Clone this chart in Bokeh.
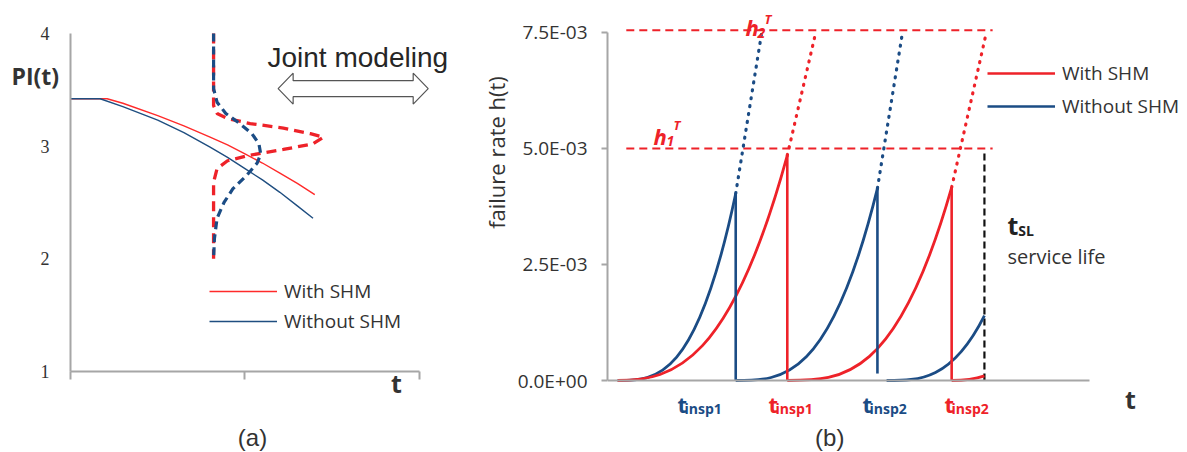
import math
from bokeh.plotting import figure
from bokeh.models import Range1d, FixedTicker, Label, Legend, LegendItem
from bokeh.layouts import row
from bokeh.embed import file_html
from bokeh.resources import INLINE

# ---------------- panel (a) data ----------------
a_t_with = [0, 0.21, 0.3, 0.5, 0.65, 0.8, 0.9, 1.0, 1.1, 1.2, 1.3, 1.4]
a_pi_with = [3.42, 3.42, 3.38, 3.27, 3.18, 3.08, 3.01, 2.93, 2.85, 2.76, 2.67, 2.57]
a_t_without = [0, 0.17, 0.3, 0.5, 0.65, 0.8, 0.9, 1.0, 1.1, 1.2, 1.3, 1.39]
a_pi_without = [3.42, 3.42, 3.35, 3.23, 3.12, 2.99, 2.90, 2.80, 2.70, 2.59, 2.47, 2.36]

a_pdf_with_t = [0.82, 0.82, 0.84, 0.90, 1.03, 1.22, 1.375, 1.45, 1.39, 1.22, 1.03, 0.90, 0.84, 0.82, 0.82]
a_pdf_with_pi = [4.0, 3.36, 3.29, 3.245, 3.20, 3.16, 3.11, 3.08, 3.02, 2.97, 2.92, 2.87, 2.80, 2.68, 2.0]
a_pdf_without_t = [0.82, 0.82, 0.84, 0.89, 0.97, 1.04, 1.08, 1.09, 1.07, 1.01, 0.93, 0.88, 0.84, 0.825, 0.82]
a_pdf_without_pi = [4.0, 3.51, 3.39, 3.29, 3.20, 3.11, 3.02, 2.93, 2.85, 2.74, 2.62, 2.50, 2.36, 2.18, 2.0]

a_xticks = [0, 1, 2]
a_yticks = [1, 2, 3, 4]
a_ytick_labels = ["1", "2", "3", "4"]

# double arrow ("Joint modeling"), data units of panel (a)
ARR_X0, ARR_X1, ARR_Y = 1.19, 2.05, 3.51
ARR_HEAD_LEN, ARR_HEAD_HALF, ARR_BODY_HALF = 0.086, 0.1375, 0.071

# ---------------- panel (b) data ----------------
# each degradation cycle: start time, end (inspection) time, failure rate at end, curvature factor
b_blue_start = [0.21, 2.66, 5.79]
b_blue_end = [2.66, 5.60, 7.82]
b_blue_peak = [0.00403, 0.00414, 0.0014]
b_blue_shape = [0.0, 0.0, 0.0]
b_red_start = [0.21, 3.73, 7.14]
b_red_end = [3.73, 7.14, 7.82]
b_red_peak = [0.00485, 0.00416, 0.0001]
b_red_shape = [0.08, 0.0, 0.2]
# inspections (repair drops)
b_blue_insp_t = [2.66, 5.60]
b_blue_insp_top = [0.00403, 0.00414]
b_blue_insp_bottom = [0, 0.00015]
b_red_insp_t = [3.73, 7.14]
b_red_insp_top = [0.00485, 0.00416]
b_red_insp_bottom = [0, 0]
# dotted extrapolations up to h2^T
b_blue_extra_t1 = [3.20, 6.12]
b_red_extra_t1 = [4.32, 7.86]
b_extra_h1 = 0.0075
# thresholds
b_thresholds = [0.005, 0.00755]
b_threshold_t0, b_threshold_t1 = 0.39, 7.99
b_service_life = 7.82
b_service_life_top = 0.0049

b_yticks = [0, 0.0025, 0.005, 0.0075]
b_ytick_labels = ["0.0E+00", "2.5E-03", "5.0E-03", "7.5E-03"]

b_insp_label_t = [1.452, 3.340, 5.290, 6.992]
b_insp_label_sub = ["insp1", "insp1", "insp2", "insp2"]
b_insp_label_series = ["without", "with", "without", "with"]

# ---------------- styles ----------------
RED = "#ee2229"
BLUE = "#1b4c85"
RED_THIN = "#ff2a2a"
BLUE_THIN = "#1f4e80"
AXIS_GRAY = "#a6a6a6"
TXT = "#333333"
FONT = "Open Sans"
H = 451
TOP = 8


def bare(p):
    p.outline_line_color = None
    p.xgrid.grid_line_color = None
    p.ygrid.grid_line_color = None


# ================= panel (a) =================
p1 = figure(width=453, height=H, x_range=Range1d(-0.4011, 2.195), y_range=Range1d(0.2901, 4.221),
            x_axis_location="above", output_backend="svg", toolbar_location=None,
            min_border_left=0, min_border_right=0, min_border_top=TOP, min_border_bottom=0)
bare(p1)

xa = p1.xaxis[0]
xa.fixed_location = 1
xa.bounds = (0, 2)
xa.ticker = FixedTicker(ticks=a_xticks)
xa.major_label_overrides = {0: "", 1: "", 2: ""}
xa.major_label_text_font_size = "1px"
xa.major_label_standoff = 0
xa.major_tick_out = 0
xa.major_tick_in = 8
xa.major_tick_line_color = AXIS_GRAY
xa.major_tick_line_width = 2
xa.minor_tick_line_color = None
xa.axis_line_color = AXIS_GRAY
xa.axis_line_width = 2

ya = p1.yaxis[0]
ya.fixed_location = 0
ya.bounds = (1, 4)
ya.ticker = FixedTicker(ticks=[])
ya.major_label_standoff = 0
ya.major_tick_out = 0
ya.major_tick_in = 0
ya.major_tick_line_color = None
ya.minor_tick_line_color = None
ya.axis_line_color = AXIS_GRAY
ya.axis_line_width = 2

# y tick labels of panel (a), placed through the y scale
p1.text(x=[0] * len(a_yticks), y=a_yticks, text=a_ytick_labels, x_offset=-21,
        text_align="right", text_baseline="middle", text_font="Open Sans",
        text_font_size="18px", text_color=TXT)

r_with = p1.multi_line([a_t_with], [a_pi_with], line_color=RED_THIN, line_width=1.4)
r_without = p1.multi_line([a_t_without], [a_pi_without], line_color=BLUE_THIN, line_width=1.4)
p1.line(a_pdf_with_t, a_pdf_with_pi, line_color=RED, line_width=3.3, line_dash="10 6")
p1.line(a_pdf_without_t, a_pdf_without_pi, line_color=BLUE, line_width=3.2, line_dash="8 5")

ax = [ARR_X0, ARR_X0 + ARR_HEAD_LEN, ARR_X0 + ARR_HEAD_LEN, ARR_X1 - ARR_HEAD_LEN, ARR_X1 - ARR_HEAD_LEN,
      ARR_X1, ARR_X1 - ARR_HEAD_LEN, ARR_X1 - ARR_HEAD_LEN, ARR_X0 + ARR_HEAD_LEN, ARR_X0 + ARR_HEAD_LEN]
ay = [ARR_Y, ARR_Y + ARR_HEAD_HALF, ARR_Y + ARR_BODY_HALF, ARR_Y + ARR_BODY_HALF, ARR_Y + ARR_HEAD_HALF,
      ARR_Y, ARR_Y - ARR_HEAD_HALF, ARR_Y - ARR_BODY_HALF, ARR_Y - ARR_BODY_HALF, ARR_Y - ARR_HEAD_HALF]
p1.patch(ax, ay, fill_color="white", line_color="#555555", line_width=1.2)

leg1 = Legend(items=[LegendItem(label="With SHM", renderers=[r_with]),
                     LegendItem(label="Without SHM", renderers=[r_without])],
              location=(209, 117), glyph_width=68, glyph_height=20, label_height=20,
              label_standoff=7, spacing=4, padding=0, margin=0,
              border_line_color=None, background_fill_alpha=0,
              label_text_font=FONT, label_text_font_size="19px", label_text_color=TXT)
p1.add_layout(leg1)

p1.add_layout(Label(x=-0.338, y=3.626, text="PI(t)", text_font=FONT, text_font_size="23px",
                    text_font_style="bold", text_color=TXT, text_baseline="middle", text_align="left"))
p1.add_layout(Label(x=1.129, y=3.786, text="Joint modeling", text_font="Liberation Sans",
                    text_font_size="28px", text_color="#262626", text_baseline="alphabetic"))
p1.add_layout(Label(x=1.868, y=0.894, text="t", text_font=FONT, text_font_size="25px",
                    text_font_style="bold", text_color=TXT, text_baseline="middle", text_align="center"))
p1.add_layout(Label(x=1.043, y=0.414, text="(a)", text_font="Liberation Sans",
                    text_font_size="24px", text_color=TXT, text_baseline="middle", text_align="center"))

# ================= y-axis title strip of panel (b) =================
g2 = figure(width=56, height=H, x_range=Range1d(0, 56), y_range=Range1d(0, H - TOP),
            x_axis_location=None, y_axis_location=None, output_backend="svg", toolbar_location=None,
            min_border_left=0, min_border_right=0, min_border_top=TOP, min_border_bottom=0)
bare(g2)
g2.add_layout(Label(x=42, y=299, text="failure rate h(t)", angle=math.pi / 2, text_font=FONT,
                    text_font_size="22px", text_color=TXT, text_baseline="middle", text_align="center"))

# ================= panel (b) =================
p2 = figure(width=678, height=H, x_range=Range1d(0, 11.867), y_range=Range1d(-0.00153, 0.008017),
            x_axis_location="above", output_backend="svg", toolbar_location=None,
            min_border_left=98, min_border_right=8, min_border_top=TOP, min_border_bottom=0)
bare(p2)

xb = p2.xaxis[0]
xb.fixed_location = 0
xb.bounds = (0, 10)
xb.ticker = FixedTicker(ticks=[])
xb.major_label_standoff = 0
xb.major_tick_out = 0
xb.major_tick_in = 0
xb.major_tick_line_color = None
xb.minor_tick_line_color = None
xb.axis_line_color = AXIS_GRAY
xb.axis_line_width = 2

yb = p2.yaxis[0]
yb.bounds = (0, 0.0075)
yb.ticker = FixedTicker(ticks=b_yticks)
yb.major_label_overrides = {t: s for t, s in zip(b_yticks, b_ytick_labels)}
yb.major_tick_out = 6
yb.major_tick_in = 0
yb.major_tick_line_color = AXIS_GRAY
yb.major_tick_line_width = 2
yb.minor_tick_line_color = None
yb.major_label_standoff = 14
yb.major_label_text_font = FONT
yb.major_label_text_font_size = "19px"
yb.major_label_text_color = TXT
yb.axis_line_color = AXIS_GRAY
yb.axis_line_width = 2

# thresholds
p2.segment(x0=[b_threshold_t0] * len(b_thresholds), x1=[b_threshold_t1] * len(b_thresholds),
           y0=b_thresholds, y1=b_thresholds, line_color=RED, line_width=2, line_dash="8 5")
# dotted extrapolations
p2.segment(x0=b_blue_insp_t, y0=b_blue_insp_top, x1=b_blue_extra_t1, y1=[b_extra_h1] * 2,
           line_color=BLUE, line_width=3.2, line_dash="1 7", line_cap="round")
p2.segment(x0=b_red_insp_t, y0=b_red_insp_top, x1=b_red_extra_t1, y1=[b_extra_h1] * 2,
           line_color=RED, line_width=3.2, line_dash="1 7", line_cap="round")
# service life
p2.segment(x0=[b_service_life], x1=[b_service_life], y0=[0], y1=[b_service_life_top],
           line_color="#111111", line_width=2.2, line_dash="7 4")


def cycles(start, end, peak, shape):
    d = [e - s for s, e in zip(start, end)]
    return dict(x0=start, y0=[0] * len(start), x1=end, y1=peak,
                cx0=[s + di / 3 for s, di in zip(start, d)], cy0=[0] * len(start),
                cx1=[s + 2 * di / 3 for s, di in zip(start, d)], cy1=[k * p for k, p in zip(shape, peak)])


p2.bezier(**cycles(b_blue_start, b_blue_end, b_blue_peak, b_blue_shape), line_color=BLUE, line_width=2.8)
p2.bezier(**cycles(b_red_start, b_red_end, b_red_peak, b_red_shape), line_color=RED, line_width=2.8)
r_b_without = p2.segment(x0=b_blue_insp_t, x1=b_blue_insp_t, y0=b_blue_insp_top, y1=b_blue_insp_bottom,
                         line_color=BLUE, line_width=2.6)
r_b_with = p2.segment(x0=b_red_insp_t, x1=b_red_insp_t, y0=b_red_insp_top, y1=b_red_insp_bottom,
                      line_color=RED, line_width=2.6)

leg2 = Legend(items=[LegendItem(label="With SHM", renderers=[r_b_with]),
                     LegendItem(label="Without SHM", renderers=[r_b_without])],
              location=(380, 332), glyph_width=68, glyph_height=20, label_height=20,
              label_standoff=7, spacing=7, padding=0, margin=0,
              border_line_color=None, background_fill_alpha=0,
              label_text_font=FONT, label_text_font_size="19px", label_text_color=TXT)
p2.add_layout(leg2)

# inspection time labels
for t, sub, ser in zip(b_insp_label_t, b_insp_label_sub, b_insp_label_series):
    col = BLUE if ser == "without" else RED
    p2.add_layout(Label(x=t, y=-0.000496, text="t", text_font=FONT, text_font_size="22px",
                        text_font_style="bold", text_color=col, text_baseline="alphabetic"))
    p2.add_layout(Label(x=t + 0.145, y=-0.000603, text=sub, text_font=FONT, text_font_size="14px",
                        text_font_style="bold", text_color=col, text_baseline="alphabetic"))

# threshold labels
for hx, hy, sx, sy, tx, ty, s in [(0.954, 0.00528, 1.224, 0.00517, 1.369, 0.00550, "1"),
                                  (2.863, 0.00761, 3.112, 0.00748, 3.257, 0.00778, "2")]:
    p2.add_layout(Label(x=hx, y=hy, text="h", text_font=FONT, text_font_size="22px",
                        text_font_style="bold italic", text_color=RED, text_baseline="alphabetic"))
    p2.add_layout(Label(x=sx, y=sy, text=s, text_font=FONT, text_font_size="14px",
                        text_font_style="bold italic", text_color=RED, text_baseline="alphabetic"))
    p2.add_layout(Label(x=tx, y=ty, text="T", text_font=FONT, text_font_size="13px",
                        text_font_style="bold italic", text_color=RED, text_baseline="alphabetic"))

# service life label
p2.add_layout(Label(x=8.299, y=0.00336, text="t", text_font=FONT, text_font_size="25px",
                    text_font_style="bold", text_color="#222222", text_baseline="alphabetic"))
p2.add_layout(Label(x=8.52, y=0.00323, text="SL", text_font=FONT, text_font_size="14px",
                    text_font_style="bold", text_color="#222222", text_baseline="alphabetic"))
p2.add_layout(Label(x=8.299, y=0.00267, text="service life", text_font=FONT, text_font_size="20px",
                    text_color=TXT, text_baseline="alphabetic"))

p2.add_layout(Label(x=10.85, y=-0.000388, text="t", text_font=FONT, text_font_size="25px",
                    text_font_style="bold", text_color=TXT, text_baseline="middle", text_align="center"))
p2.add_layout(Label(x=4.61, y=-0.00123, text="(b)", text_font="Liberation Sans",
                    text_font_size="24px", text_color=TXT, text_baseline="middle", text_align="center"))

layout = row(p1, g2, p2)
open("out.html", "w").write(file_html(layout, INLINE))
